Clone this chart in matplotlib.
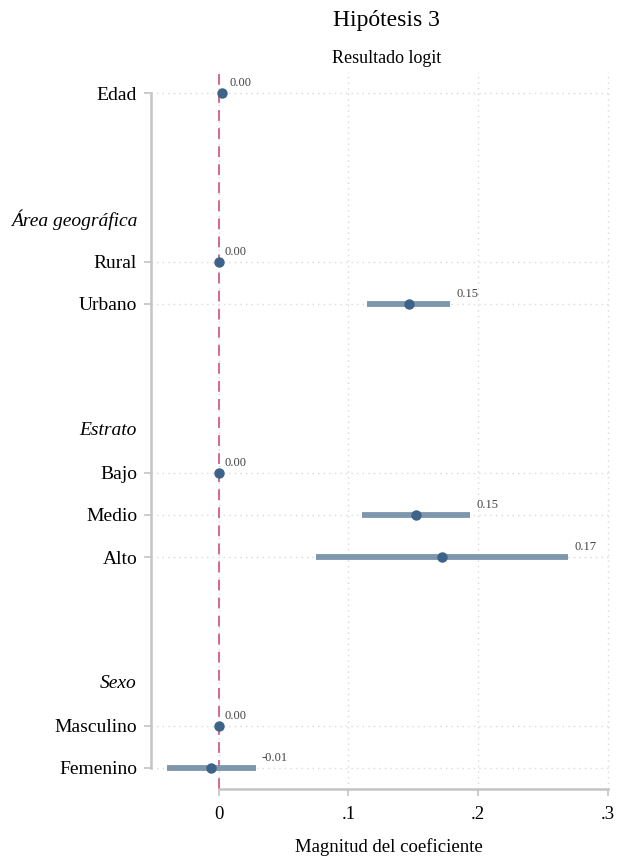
import matplotlib
matplotlib.use("Agg")
import matplotlib.pyplot as plt

plt.rcParams['font.family'] = ['Liberation Serif', 'DejaVu Serif']

# Coefficient rows (top to bottom) with row positions on the y scale
labels = ["Edad", "Rural", "Urbano", "Bajo", "Medio", "Alto", "Masculino", "Femenino"]
rows = [0, 4, 5, 9, 10, 11, 15, 16]
coef = [0.0025, 0.0, 0.147, 0.0, 0.152, 0.172, 0.0, -0.0062]
ci_low = [0.0015, 0.0, 0.1144, 0.0, 0.1105, 0.0751, 0.0, -0.0402]
ci_high = [0.0035, 0.0, 0.1785, 0.0, 0.1940, 0.2695, 0.0, 0.0285]
value_text = ["0.00", "0.00", "0.15", "0.00", "0.15", "0.17", "0.00", "-0.01"]

# Group headings
groups = ["Área geográfica", "Estrato", "Sexo"]
group_rows = [3, 8, 14]

xticks = [0, 0.1, 0.2, 0.3]
xticklabels = ["0", ".1", ".2", ".3"]

marker_color = "#3d6389"
ci_color = "#7f97ad"
ref_color = "#d0607f"
spine_color = "#c4c4c4"
grid_color = "#d9d9d9"

fig = plt.figure(figsize=(6.17, 8.57), dpi=100)
ax = fig.add_axes([0.2447, 0.0793, 0.7453, 0.8367])

ax.set_xlim(-0.0523, 0.3025)
ax.set_ylim(16.5, -0.5)

# grid lines
for xv in xticks:
    ax.axvline(xv, color=grid_color, lw=1.0, ls=(0, (1, 3)), zorder=0)
for r in rows:
    ax.axhline(r, color=grid_color, lw=1.0, ls=(0, (1, 3)), zorder=0)

# reference line at zero
ax.axvline(0, color=ref_color, lw=1.3, ls=(0, (6, 4)), zorder=1)

# confidence intervals and point estimates
for r, lo, hi in zip(rows, ci_low, ci_high):
    ax.plot([lo, hi], [r, r], color=ci_color, lw=4.2, solid_capstyle="butt", zorder=2)
ax.plot(coef, rows, "o", color=marker_color, ms=6.5, zorder=3, lw=0)

for r, hi, txt in zip(rows, ci_high, value_text):
    ax.annotate(txt, (hi, r), xytext=(6, 10), textcoords="offset pixels",
                fontsize=9, color="#444444", ha="left", va="center")

# axes
ax.set_yticks(rows)
ax.set_yticklabels(labels, fontsize=14)
ax.set_xticks(xticks)
ax.set_xticklabels(xticklabels, fontsize=13.5)
for sp in ["top", "right"]:
    ax.spines[sp].set_visible(False)
ax.spines["left"].set_bounds(0, 16)
ax.spines["bottom"].set_bounds(0, 0.3)
for sp in ["left", "bottom"]:
    ax.spines[sp].set_color(spine_color)
    ax.spines[sp].set_linewidth(1.8)
ax.tick_params(axis="both", colors=spine_color, labelcolor="black", width=1.2, length=5)
ax.tick_params(axis="y", pad=5)
ax.tick_params(axis="x", pad=7)

ax.set_xlabel("Magnitud del coeficiente", fontsize=13.5)
ax.xaxis.set_label_coords(0.517, -0.069)

# group headings, right aligned with the row labels
for g, r in zip(groups, group_rows):
    ax.annotate(g, (0, r), xycoords=("axes fraction", "data"), xytext=(-14, 0),
                textcoords="offset pixels", ha="right", va="center",
                fontsize=14, style="italic")

fig.text(0.627, 0.976, "Hipótesis 3", ha="center", va="center", fontsize=17)
fig.text(0.627, 0.932, "Resultado logit", ha="center", va="center", fontsize=13)

fig.savefig("out.png", dpi=100)
